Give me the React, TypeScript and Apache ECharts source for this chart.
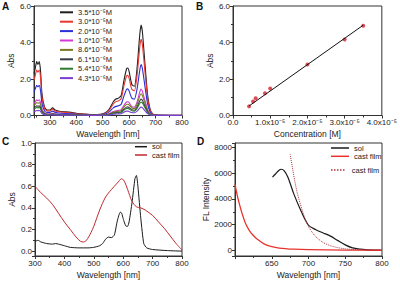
import React, { useEffect, useRef } from 'react';
import * as echarts from 'echarts';

// ---------- Panel A: absorption spectra at several concentrations ----------
const wavelengthA = [240, 245, 250, 255, 260, 265, 270, 280, 290, 300, 310, 320, 340, 360, 380, 400, 430, 460, 490, 510, 525, 540, 550, 560, 570, 580, 590, 595, 600, 610, 620, 630, 640, 645, 650, 660, 670, 680, 690, 700, 750, 800];
const concLabelsA = ['3.5*10⁻⁵M', '3.0*10⁻⁵M', '2.0*10⁻⁵M', '1.0*10⁻⁵M', '8.6*10⁻⁶M', '6.1*10⁻⁶M', '5.4*10⁻⁶M', '4.3*10⁻⁶M'];
const colorsA = ['#1f1f1f', '#e8372f', '#2b2fd6', '#d23bd6', '#7c7a22', '#3a3a48', '#2f7a2f', '#7a3fd2'];
const absA35 = [2.3, 2.6, 2.95, 2.8, 2.95, 2.4, 1.2, 0.45, 0.3, 0.3, 0.42, 0.3, 0.22, 0.2, 0.17, 0.12, 0.08, 0.05, 0.06, 0.15, 0.35, 0.75, 0.9, 0.95, 1.1, 1.9, 2.55, 2.6, 2.4, 1.7, 1.6, 2.6, 4.4, 4.95, 4.6, 2.8, 1.1, 0.3, 0.08, 0.03, 0.01, 0.01];
const absA30 = [1.94, 2.2, 2.49, 2.37, 2.49, 2.03, 1.01, 0.38, 0.25, 0.25, 0.35, 0.25, 0.19, 0.17, 0.14, 0.1, 0.07, 0.04, 0.05, 0.13, 0.3, 0.63, 0.76, 0.8, 0.93, 1.61, 2.15, 2.2, 2.03, 1.44, 1.35, 2.2, 3.72, 4.18, 3.89, 2.37, 0.93, 0.25, 0.07, 0.03, 0.01, 0.01];
const absA20 = [1.29, 1.46, 1.65, 1.57, 1.65, 1.34, 0.67, 0.25, 0.17, 0.17, 0.24, 0.17, 0.12, 0.11, 0.1, 0.07, 0.04, 0.03, 0.03, 0.08, 0.2, 0.42, 0.5, 0.53, 0.62, 1.06, 1.43, 1.46, 1.34, 0.95, 0.9, 1.46, 2.46, 2.79, 2.58, 1.57, 0.62, 0.17, 0.04, 0.02, 0.01, 0.01];
const absA10 = [0.67, 0.75, 0.86, 0.81, 0.86, 0.7, 0.35, 0.13, 0.09, 0.09, 0.12, 0.09, 0.06, 0.06, 0.05, 0.03, 0.02, 0.01, 0.02, 0.04, 0.1, 0.22, 0.26, 0.28, 0.32, 0.55, 0.74, 0.75, 0.7, 0.49, 0.46, 0.75, 1.28, 1.45, 1.33, 0.81, 0.32, 0.09, 0.02, 0.01, 0, 0];
const absA86 = [0.55, 0.62, 0.71, 0.67, 0.71, 0.58, 0.29, 0.11, 0.07, 0.07, 0.1, 0.07, 0.05, 0.05, 0.04, 0.03, 0.02, 0.01, 0.01, 0.04, 0.08, 0.18, 0.22, 0.23, 0.26, 0.46, 0.61, 0.62, 0.58, 0.41, 0.38, 0.62, 1.06, 1.19, 1.1, 0.67, 0.26, 0.07, 0.02, 0.01, 0, 0];
const absA61 = [0.41, 0.47, 0.53, 0.5, 0.53, 0.43, 0.22, 0.08, 0.05, 0.05, 0.08, 0.05, 0.04, 0.04, 0.03, 0.02, 0.01, 0.01, 0.01, 0.03, 0.06, 0.14, 0.16, 0.17, 0.2, 0.34, 0.46, 0.47, 0.43, 0.31, 0.29, 0.47, 0.79, 0.9, 0.83, 0.5, 0.2, 0.05, 0.01, 0.01, 0, 0];
const absA54 = [0.35, 0.39, 0.44, 0.42, 0.44, 0.36, 0.18, 0.07, 0.05, 0.05, 0.06, 0.05, 0.03, 0.03, 0.03, 0.02, 0.01, 0.01, 0.01, 0.02, 0.05, 0.11, 0.14, 0.14, 0.17, 0.29, 0.38, 0.39, 0.36, 0.26, 0.24, 0.39, 0.66, 0.73, 0.69, 0.42, 0.17, 0.05, 0.01, 0, 0, 0];
const absA43 = [0.21, 0.24, 0.27, 0.26, 0.27, 0.22, 0.11, 0.04, 0.03, 0.03, 0.04, 0.03, 0.02, 0.02, 0.02, 0.01, 0.01, 0, 0.01, 0.01, 0.03, 0.07, 0.08, 0.09, 0.1, 0.18, 0.24, 0.24, 0.22, 0.16, 0.15, 0.24, 0.41, 0.46, 0.43, 0.26, 0.1, 0.03, 0.01, 0, 0, 0];
const seriesA = [absA35, absA30, absA20, absA10, absA86, absA61, absA54, absA43];

// ---------- Panel B: calibration ----------
const concB = [4.3e-6, 5.4e-6, 6.1e-6, 8.6e-6, 1.0e-5, 2.0e-5, 3.0e-5, 3.5e-5];
const absB = [0.5, 0.77, 0.94, 1.22, 1.48, 2.79, 4.16, 4.92];
const fitB = [[4.3e-6, 0.52], [3.5e-5, 4.95]];
const tickLabelsB = ['0.0', '1.0x10⁻⁵', '2.0x10⁻⁵', '3.0x10⁻⁵', '4.0x10⁻⁵'];

// ---------- Panel C: sol vs cast film absorption ----------
const wlCsol = [300, 310, 320, 340, 360, 370, 380, 400, 420, 450, 480, 500, 520, 530, 540, 550, 560, 570, 580, 590, 595, 600, 610, 615, 620, 630, 640, 645, 650, 660, 670, 680, 700, 750, 800];
const absCsol = [0.09, 0.1, 0.085, 0.07, 0.065, 0.07, 0.065, 0.05, 0.035, 0.03, 0.03, 0.035, 0.05, 0.07, 0.11, 0.13, 0.125, 0.15, 0.28, 0.36, 0.35, 0.3, 0.23, 0.23, 0.27, 0.45, 0.67, 0.7, 0.6, 0.3, 0.07, 0.03, 0.015, 0.005, 0];
const wlCfilm = [300, 320, 340, 360, 380, 400, 420, 440, 455, 465, 475, 490, 500, 520, 540, 560, 580, 595, 605, 615, 630, 645, 660, 675, 700, 720, 740, 760, 780, 800];
const absCfilm = [0.6, 0.54, 0.49, 0.43, 0.35, 0.27, 0.2, 0.13, 0.09, 0.085, 0.1, 0.17, 0.23, 0.38, 0.5, 0.57, 0.63, 0.67, 0.64, 0.57, 0.46, 0.41, 0.4, 0.38, 0.33, 0.27, 0.21, 0.14, 0.07, 0.01];

// ---------- Panel D: fluorescence ----------
const wlDsol = [651, 655, 660, 663, 667, 672, 680, 690, 700, 710, 720, 730, 740, 750, 760, 770, 780, 790, 800];
const flDsol = [5700, 5950, 6250, 6320, 6200, 5700, 4400, 3050, 1950, 1600, 1350, 1100, 750, 420, 180, 80, 30, 10, 0];
const wlDfilm = [600, 603, 606, 610, 615, 620, 625, 630, 640, 650, 660, 680, 700, 750, 800];
const flDfilm = [5150, 4300, 3600, 2800, 2000, 1500, 1150, 870, 480, 280, 170, 80, 40, 10, 0];
const wlDdot = [675, 678, 681, 685, 690, 695, 700, 705, 710, 720, 730, 740, 750, 760, 780, 800];
const flDdot = [7500, 6500, 5500, 4400, 3400, 2500, 1850, 1400, 1050, 600, 350, 200, 110, 60, 20, 5];

const FONT = 'Liberation Sans, Arial, sans-serif';
const zip = (xs: number[], ys: number[]) => xs.map((x, i) => [x, ys[i]]);
const DOTS_ICON = 'path://M0 0h2v2H0z M4 0h2v2H4z M8 0h2v2H8z M12 0h2v2h-2z M16 0h2v2h-2z';

const axisBase = (gridIndex: number) => ({
  gridIndex,
  axisLine: { show: true, onZero: false, lineStyle: { color: '#333', width: 1 } },
  axisTick: { show: true, length: 3, lineStyle: { color: '#333' } },
  minorTick: { show: true, splitNumber: 2, length: 2, lineStyle: { color: '#333' } },
  splitLine: { show: false },
  axisLabel: { fontSize: 8, color: '#222', margin: 3, fontFamily: FONT },
  nameTextStyle: { fontSize: 8.5, color: '#222', fontFamily: FONT },
});

const isMultiple = (v: number, step: number) => Math.abs(v / step - Math.round(v / step)) < 1e-6;

export default function App() {
  const ref = useRef<HTMLDivElement>(null);
  useEffect(() => {
    if (!ref.current) return;
    const chart = echarts.init(ref.current, undefined, { renderer: 'svg' });
    const gridStyle = { show: true, borderColor: '#333', borderWidth: 1, backgroundColor: 'transparent' };
    const legendText = { fontSize: 7.5, color: '#222', fontFamily: FONT };
    const option: any = {
      animation: false,
      backgroundColor: '#fff',
      textStyle: { fontFamily: FONT },
      grid: [
        { left: 34, top: 6, width: 148, height: 109.5, ...gridStyle },
        { left: 233, top: 6, width: 149, height: 109.5, ...gridStyle },
        { left: 35, top: 143, width: 147, height: 113, ...gridStyle },
        { left: 235, top: 143, width: 147, height: 113, ...gridStyle },
      ],
      xAxis: [
        {
          ...axisBase(0), type: 'value', min: 240, max: 800,
          name: 'Wavelength [nm]', nameLocation: 'middle', nameGap: 14,
          axisLabel: { ...axisBase(0).axisLabel, formatter: (v: number) => (isMultiple(v, 100) ? String(v) : '') },
        },
        {
          ...axisBase(1), type: 'value', min: 0, max: 4e-5, interval: 1e-5,
          name: 'Concentration [M]', nameLocation: 'middle', nameGap: 14,
          axisLabel: { ...axisBase(1).axisLabel, formatter: (v: number) => tickLabelsB[Math.round(v / 1e-5)] },
        },
        {
          ...axisBase(2), type: 'value', min: 300, max: 800, interval: 100,
          name: 'Wavelength [nm]', nameLocation: 'middle', nameGap: 14,
        },
        {
          ...axisBase(3), type: 'value', min: 600, max: 800, interval: 50,
          name: 'Wavelength [nm]', nameLocation: 'middle', nameGap: 14,
          axisLabel: { ...axisBase(3).axisLabel, formatter: (v: number) => (v === 600 ? '' : String(v)) },
        },
      ],
      yAxis: [
        {
          ...axisBase(0), type: 'value', min: 0, max: 6, interval: 2,
          name: 'Abs', nameLocation: 'middle', nameGap: 17,
          axisLabel: { ...axisBase(0).axisLabel, formatter: (v: number) => v.toFixed(1) },
        },
        {
          ...axisBase(1), type: 'value', min: 0, max: 6, interval: 2,
          name: 'Abs', nameLocation: 'middle', nameGap: 17,
          axisLabel: { ...axisBase(1).axisLabel, formatter: (v: number) => v.toFixed(1) },
        },
        {
          ...axisBase(2), type: 'value', min: -0.045, max: 1.0,
          name: 'Abs', nameLocation: 'middle', nameGap: 17,
          axisLabel: { ...axisBase(2).axisLabel, formatter: (v: number) => (isMultiple(v, 0.2) ? v.toFixed(1) : '') },
        },
        {
          ...axisBase(3), type: 'value', min: -450, max: 8370,
          name: 'FL Intensity', nameLocation: 'middle', nameGap: 23,
          axisLabel: { ...axisBase(3).axisLabel, formatter: (v: number) => (isMultiple(v, 2000) ? String(Math.round(v)) : '') },
        },
      ],
      legend: [
        {
          orient: 'vertical', left: 60, top: 7.8, padding: 0,
          icon: 'rect', itemWidth: 13, itemHeight: 2, itemGap: 0.4,
          textStyle: { ...legendText, lineHeight: 9 },
          data: concLabelsA,
        },
        {
          orient: 'vertical', left: 135, top: 142.7, padding: 0,
          icon: 'rect', itemWidth: 12, itemHeight: 1.5, itemGap: 0.3,
          textStyle: { ...legendText, lineHeight: 8 },
          data: ['sol', { name: 'cast film', itemStyle: { color: '#c0282d' } }],
        },
        {
          orient: 'vertical', left: 331, top: 144, padding: 0,
          icon: 'rect', itemWidth: 18, itemHeight: 1.5, itemGap: 0.3,
          textStyle: { ...legendText, lineHeight: 8 },
          data: [{ name: 'sol', itemStyle: { color: '#1a1a1a' } }, { name: 'cast film', itemStyle: { color: '#e8322e' } }],
        },
        {
          orient: 'vertical', left: 331, top: 166, padding: 0,
          icon: DOTS_ICON, itemWidth: 18, itemHeight: 1.5,
          textStyle: { ...legendText, lineHeight: 8 },
          data: ['cast film '],
        },
      ],
      graphic: [
        { type: 'text', left: 2, top: 1, style: { text: 'A', fontSize: 10, fontWeight: 'bold', fill: '#111', fontFamily: FONT } },
        { type: 'text', left: 196, top: 1, style: { text: 'B', fontSize: 10, fontWeight: 'bold', fill: '#111', fontFamily: FONT } },
        { type: 'text', left: 2, top: 136, style: { text: 'C', fontSize: 10, fontWeight: 'bold', fill: '#111', fontFamily: FONT } },
        { type: 'text', left: 197, top: 136, style: { text: 'D', fontSize: 10, fontWeight: 'bold', fill: '#111', fontFamily: FONT } },
      ],
      series: [
        ...seriesA.map((vals, i) => ({
          type: 'line', name: concLabelsA[i], xAxisIndex: 0, yAxisIndex: 0,
          data: zip(wavelengthA, vals), symbol: 'none', smooth: 0.2,
          lineStyle: { color: colorsA[i], width: 1.1 }, itemStyle: { color: colorsA[i] },
        })),
        {
          type: 'line', name: 'fit', xAxisIndex: 1, yAxisIndex: 1, data: fitB,
          symbol: 'none', lineStyle: { color: '#111', width: 1 }, itemStyle: { color: '#111' },
        },
        {
          type: 'scatter', name: 'data', xAxisIndex: 1, yAxisIndex: 1, data: zip(concB, absB),
          symbolSize: 4, itemStyle: { color: '#d4202c' },
        },
        {
          type: 'line', name: 'sol', xAxisIndex: 2, yAxisIndex: 2, data: zip(wlCsol, absCsol),
          symbol: 'none', smooth: 0.2, lineStyle: { color: '#1a1a1a', width: 1 }, itemStyle: { color: '#1a1a1a' },
        },
        {
          type: 'line', name: 'cast film', xAxisIndex: 2, yAxisIndex: 2, data: zip(wlCfilm, absCfilm),
          symbol: 'none', smooth: 0.3, lineStyle: { color: '#c0282d', width: 1 }, itemStyle: { color: '#c0282d' },
        },
        {
          type: 'line', name: 'sol', xAxisIndex: 3, yAxisIndex: 3, data: zip(wlDsol, flDsol),
          symbol: 'none', smooth: 0.3, lineStyle: { color: '#1a1a1a', width: 1.2 }, itemStyle: { color: '#1a1a1a' },
        },
        {
          type: 'line', name: 'cast film', xAxisIndex: 3, yAxisIndex: 3, data: zip(wlDfilm, flDfilm),
          symbol: 'none', smooth: 0.3, lineStyle: { color: '#e8322e', width: 1.3 }, itemStyle: { color: '#e8322e' },
        },
        {
          type: 'line', name: 'cast film ', xAxisIndex: 3, yAxisIndex: 3, data: zip(wlDdot, flDdot),
          symbol: 'none', smooth: 0.3, lineStyle: { color: '#b0303a', width: 1, type: 'dotted' }, itemStyle: { color: '#b0303a' },
        },
      ],
    };
    chart.setOption(option);
    return () => chart.dispose();
  }, []);
  return <div ref={ref} style={{ position: 'fixed', left: 0, top: 0, width: 400, height: 282, background: '#fff' }} />;
}
